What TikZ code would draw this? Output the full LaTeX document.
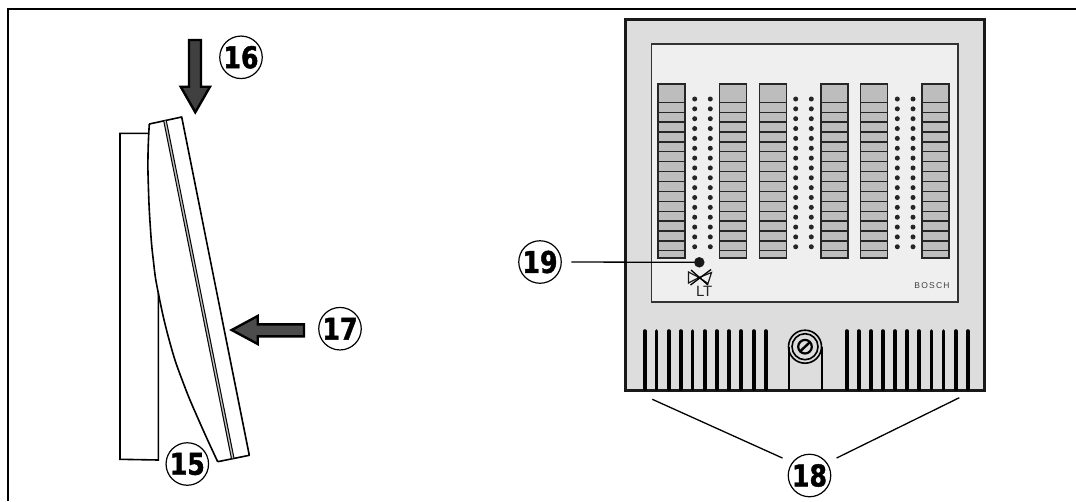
\documentclass[tikz,border=0pt]{standalone}
\usepackage{fontspec}
\setmainfont{Liberation Sans}
\newfontfamily\numf[FakeStretch=0.84,FakeBold=1.4]{DejaVu Sans}
\begin{document}
\begin{tikzpicture}[x=1pt,y=-1pt,
  callout/.style={draw=black,circle,line width=1.2pt,minimum size=42.5pt,inner sep=0pt,font=\numf\bfseries\fontsize{30}{30}\selectfont},
  leader/.style={line width=1.3pt,black},
  bigarrow/.style={draw=black,line width=2.4pt,line join=miter,fill=#1},
  outline/.style={line width=1.6pt,black},
  panelout/.style={draw=black!90,line width=3pt,fill=panelgray},
  panelin/.style={draw=black!80,line width=1.7pt,fill=innergray},
  strip/.style={draw=black!85,line width=1.5pt,fill=stripgray},
  vent/.style={line width=3.6pt,black,line cap=round},
  led/.style={fill=black!90,circle,inner sep=0pt,minimum size=#1}]
\definecolor{panelgray}{HTML}{DDDDDD}
\definecolor{innergray}{HTML}{EFEFEF}
\definecolor{stripgray}{HTML}{BDBDBD}
\useasboundingbox (0,0) rectangle (1076,501);
% page frame
\draw[line width=2.6pt,black,line join=miter] (8,501) -- (8,9) -- (1076,9);
% side view
\draw[outline,line join=miter] (148.3,133.3) -- (120,133.3) -- (120,459.3) -- (158.3,460) -- (158.3,293);
\draw[outline,line join=round] (217.7,461.7) -- (249.3,455.3) -- (181.7,117) -- (149.3,124)
  plot[smooth,tension=.8] coordinates {(149.3,124) (148,155) (148.4,187) (150.2,225) (153.3,260) (158.3,293) (170,343) (183.3,383) (200,423) (217.7,461.7)};
\draw[line width=3.6pt,black] (165,120.7) -- (232.7,458.3);
\draw[line width=1.4pt,black!25] (165,120.7) -- (232.7,458.3);
% arrows
\draw[bigarrow=black!75] (189,40) -- (201,40) -- (201,86.7) -- (210,86.7) -- (195.3,112.3) -- (180.7,86.7) -- (189,86.7) -- cycle;
\draw[bigarrow=black!70] (231.7,330) -- (257.7,316) -- (257.7,324.3) -- (304,324.3) -- (304,336.3) -- (257.7,336.3) -- (257.7,344) -- cycle;
% front panel
\draw[panelout,line join=miter] (625,19.5) rectangle (984,390);
\draw[panelin] (651.5,44) rectangle (958,301.7);
\foreach \sx in {658,719.5,759.5,821,860.5,922}{
  \draw[strip] (\sx,84) rectangle ++(27,174);
  \foreach \k in {0,...,15}{
    \draw[line width=1.3pt,black!85] (\sx,102.3+9.9*\k) -- ++(27,0);
  }
}
\foreach \dx in {694.7,710.3,795.7,811.3,897.3,913}{
  \foreach \k in {0,...,15}{
    \fill[black!85] (\dx,99+9.85*\k) circle[radius=2.5pt];
  }
}
% vents
\foreach \vx in {644.7,656.3,668.7,680.7,692.3,704.7,716.7,728.7,741,753.7,765.7,846.7,858.7,871,882.7,895,907,919,931.3,943.3,955.7,967.7}{
  \draw[vent] (\vx,331) -- (\vx,389);
}
% key tab and lock
\draw[line width=1.9pt,black] (789,390) -- (789,346.7);
\draw[line width=1.9pt,black] (821.7,390) -- (821.7,346.7);
\draw[line width=1.6pt,black] (805,346.7) circle[radius=16.5pt];
\draw[line width=1.6pt,black] (805,346.7) circle[radius=13pt];
\draw[line width=2.2pt,black] (805,346.7) circle[radius=6.8pt];
\draw[line width=2.4pt,black] (800.5,351) -- (809.5,342.5);
% LED symbol
\node[led=10.5pt] (dot) at (699.3,262.3) {};
\draw[line width=1.2pt,black!90,line join=miter] (688.5,272) -- (699,277.5) -- (688.5,283) -- cycle;
\draw[line width=1.2pt,black!90,line join=miter] (699,277.5) -- (711.5,272.5) -- (708,283.5) -- cycle;
\draw[line width=1.3pt,black] (690.5,285) -- (711,269.5);
\draw[line width=1.3pt,black] (691,270) -- (708,285);
\node[inner sep=0pt,font=\fontsize{15}{15}\selectfont,text=black!85] (lt) at (704.2,291.3) {LT};
\node[inner sep=0pt,font=\fontsize{8.5}{8.5}\selectfont,text=black!75] (brand) at (932,286) {B\kern1.2pt O\kern1.2pt S\kern1.2pt C\kern1.2pt H};
% callouts
\node[callout] (n16) at (241,57.3) {16};
\node[callout] (n17) at (340,328.7) {17};
\node[callout] (n15) at (187.3,464) {15};
\node[callout] (n19) at (540,262) {19};
\node[callout] (n18) at (809.5,475.5) {18};
\coordinate (aL) at (652.3,399.3);
\coordinate (aR) at (959.3,397.7);
\draw[leader,shorten <=9.5pt] (n19.east) -- (dot.west);
\draw[leader,shorten <=10.5pt] (n18.143) -- (aL);
\draw[leader,shorten <=10.5pt] (n18.36) -- (aR);
\end{tikzpicture}
\end{document}
